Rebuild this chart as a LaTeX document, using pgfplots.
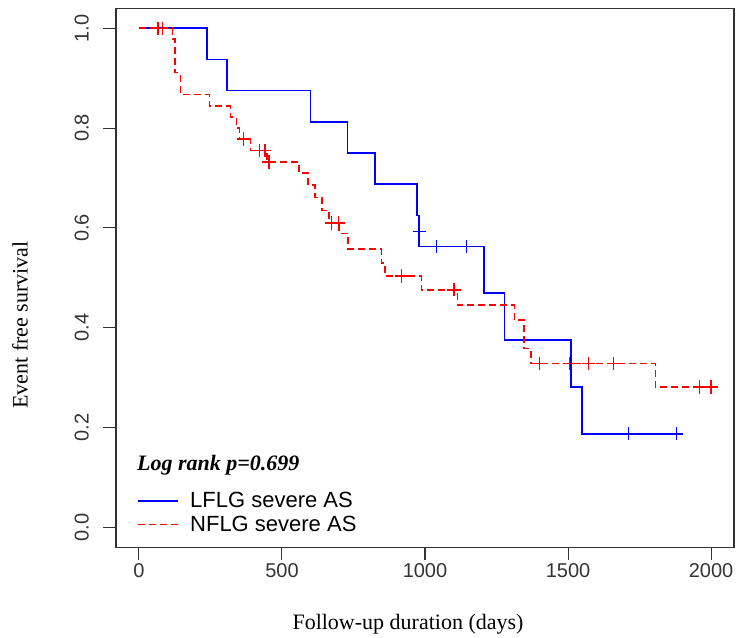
\documentclass[border=0pt]{standalone}
\usepackage{fontspec}
\setmainfont{Liberation Sans}
\newfontfamily\timesf{Liberation Serif}
\usepackage{pgfplots}
\pgfplotsset{compat=1.18}
\begin{document}
\begin{tikzpicture}
\begin{axis}[
  scale only axis, width=618bp, height=539bp,
  xmin=-80, xmax=2080, ymin=-0.04, ymax=1.04,
  axis line style={line width=1.3bp, black!80},
  xtick={0,500,1000,1500,2000},
  ytick={0,0.2,0.4,0.6,0.8,1},
  tick align=outside, major tick length=12.7bp,
  xtick pos=bottom, ytick pos=left,
  tick style={line width=1.1bp, black!80},
  /pgf/number format/assume math mode=true,
  /pgf/number format/1000 sep={},
  ticklabel style={font=\fontsize{20bp}{24bp}\selectfont, text=black!80},
  yticklabel={\pgfmathprintnumber[fixed,fixed zerofill,precision=1]{\tick}},
  yticklabel style={rotate=90, anchor=south, yshift=11bp},
  xlabel={Follow-up duration (days)},
  ylabel={Event free survival},
  label style={font=\timesf\fontsize{22bp}{26bp}\selectfont},
  xlabel style={at={(axis description cs:0.4725,0)}, anchor=center, yshift=-76.7bp},
  ylabel style={at={(axis description cs:0,0.4124)}, anchor=center, yshift=96bp},
  legend style={draw=none, fill=none, at={(axis description cs:0.0346,0.106)}, anchor=north west,
    font=\fontsize{22bp}{26bp}\selectfont, inner sep=0bp, row sep=3bp, column sep=9bp},
  legend cell align=left,
  legend image code/.code={\draw[#1] (0bp,0bp) -- (40bp,0bp);},
]
% LFLG severe AS
\addplot[const plot, blue, line width=1.6bp] coordinates {
  (0,1) (238,0.9375) (309,0.875) (600,0.8125) (729,0.75) (825,0.6875)
  (971,0.625) (980,0.5625) (1206,0.469) (1278,0.375) (1511,0.281)
  (1548,0.1875) (1879,0.1875)
};
\addlegendentry{LFLG severe AS}
\addplot[only marks, mark=+, blue, mark size=6.7bp, mark options={line width=1.5bp}, forget plot] coordinates {
  (980,0.593) (1040,0.5625) (1145,0.5625) (1712,0.1875) (1879,0.1875)
};
% NFLG severe AS
\addplot[const plot, red, dash pattern=on 7bp off 4bp, line width=1.6bp] coordinates {
  (0,1) (117,0.978) (127,0.911) (145,0.867) (247,0.844) (320,0.822)
  (341,0.800) (352,0.778) (390,0.755) (448,0.732) (559,0.710) (592,0.686)
  (615,0.661) (640,0.635) (665,0.610) (700,0.589) (731,0.558) (848,0.530)
  (860,0.504) (988,0.476) (1113,0.445) (1313,0.415) (1346,0.358)
  (1370,0.328) (1805,0.281) (2000,0.281)
};
\addlegendentry{NFLG severe AS}
\addplot[only marks, mark=+, red, mark size=6.7bp, mark options={line width=1.5bp, solid}, forget plot] coordinates {
  (66,1) (82,1) (366,0.778) (422,0.755) (440,0.755) (455,0.732)
  (673,0.610) (697,0.610) (918,0.504) (1101,0.476)
  (1400,0.328) (1505,0.328) (1572,0.328) (1659,0.328)
  (1960,0.281) (2000,0.281)
};
\node[anchor=base west, inner sep=0bp, font=\timesf\bfseries\itshape\fontsize{22bp}{26bp}\selectfont]
  at (rel axis cs:0.034,0.1434) {Log rank p=0.699};
\end{axis}
\path (current axis.south west) ++(-116bp,-90.7bp) rectangle ([shift={(3bp,8.3bp)}]current axis.north east);
\end{tikzpicture}
\end{document}
